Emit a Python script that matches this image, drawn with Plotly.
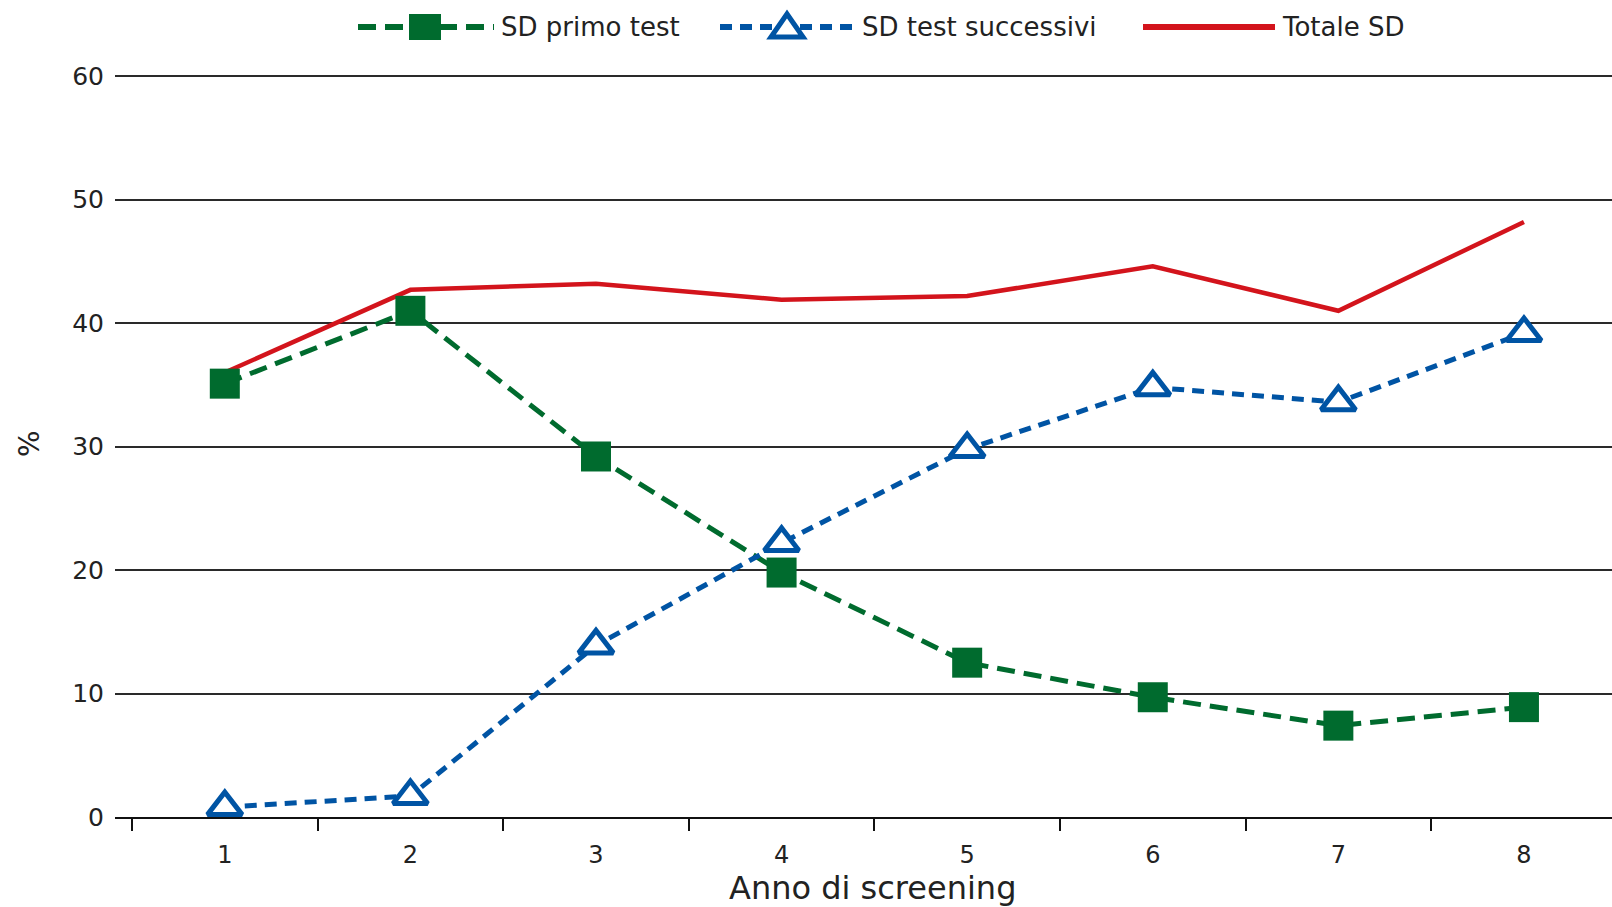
import plotly.graph_objects as go

# Screening year categories and the three series (%)
anni = [1, 2, 3, 4, 5, 6, 7, 8]
anno_labels = ["1", "2", "3", "4", "5", "6", "7", "8"]
sd_primo_test = [35.1, 41.0, 29.2, 19.8, 12.5, 9.7, 7.4, 8.9]
sd_test_successivi = [0.8, 1.7, 13.9, 22.2, 29.8, 34.8, 33.6, 39.2]
totale_sd = [36.0, 42.7, 43.2, 41.9, 42.2, 44.6, 41.0, 48.2]
y_ticks = [0, 10, 20, 30, 40, 50, 60]
serie_nomi = ["SD primo test", "SD test successivi", "Totale SD"]

W, H = 1612, 907
ML, MR, MT, MB = 115, 0, 75, 90
GREEN = "#006b2e"
BLUE = "#0054a4"
RED = "#d3141c"
INK = "#222222"
FONT = "DejaVu Sans"

GREEN_DASH = "18px,9px"
BLUE_DASH = "12px,8px"

fig = go.Figure()

fig.add_trace(go.Scatter(
    x=anni, y=totale_sd, mode="lines", name=serie_nomi[2],
    line=dict(color=RED, width=4.5), cliponaxis=False, showlegend=False,
))
fig.add_trace(go.Scatter(
    x=anni, y=sd_primo_test, mode="lines+markers", name=serie_nomi[0],
    line=dict(color=GREEN, width=5, dash=GREEN_DASH),
    marker=dict(symbol="square", size=30, color=GREEN, line=dict(width=0)),
    cliponaxis=False, showlegend=False,
))
fig.add_trace(go.Scatter(
    x=anni, y=sd_test_successivi, mode="lines+markers", name=serie_nomi[1],
    line=dict(color=BLUE, width=5, dash=BLUE_DASH),
    marker=dict(symbol="triangle-up", size=30, color="white",
                line=dict(color=BLUE, width=5)),
    cliponaxis=False, showlegend=False,
))

# Hand-built legend row above the plot (pixel offsets from the plot's top-left corner)
shapes = []
annotations = []
LEG_Y = MT - 48  # legend centre line, pixels above the plot top (positive = up)
LEG_Y = 48


def legend_line(x0, x1, color, dash=None, width=6):
    line = dict(color=color, width=width)
    if dash:
        line["dash"] = dash
    shapes.append(dict(
        type="line", xref="paper", yref="paper",
        xsizemode="pixel", ysizemode="pixel", xanchor=0, yanchor=1,
        x0=x0 - ML, x1=x1 - ML, y0=LEG_Y, y1=LEG_Y,
        line=line, layer="above",
    ))


def legend_text(x, text):
    annotations.append(dict(
        text=text, xref="paper", yref="paper", x=0, y=1,
        xshift=x - ML, yshift=LEG_Y, xanchor="left", yanchor="middle",
        showarrow=False, font=dict(family=FONT, size=26, color=INK),
    ))


# item 1: green dashed with square
legend_line(358, 494, GREEN, GREEN_DASH, 6)
cx = 425 - ML
shapes.append(dict(
    type="rect", xref="paper", yref="paper",
    xsizemode="pixel", ysizemode="pixel", xanchor=0, yanchor=1,
    x0=cx - 16, x1=cx + 16, y0=LEG_Y - 13, y1=LEG_Y + 13,
    fillcolor=GREEN, line=dict(width=0), layer="above",
))
legend_text(499, serie_nomi[0])

# item 2: blue dashed with open triangle
legend_line(720, 853, BLUE, BLUE_DASH, 6)
tx = 787 - ML
shapes.append(dict(
    type="path", xref="paper", yref="paper",
    xsizemode="pixel", ysizemode="pixel", xanchor=0, yanchor=1,
    path=f"M{tx - 16},{LEG_Y - 10} L{tx + 16},{LEG_Y - 10} L{tx},{LEG_Y + 13} Z",
    fillcolor="white", line=dict(color=BLUE, width=5), layer="above",
))
legend_text(860, serie_nomi[1])

# item 3: solid red
legend_line(1143, 1275, RED, None, 6)
legend_text(1280, serie_nomi[2])

# axis titles
annotations.append(dict(
    text="%", xref="paper", yref="paper", x=0, y=0.5, xshift=29 - ML, yshift=2,
    textangle=-90, showarrow=False, xanchor="center", yanchor="middle",
    font=dict(family=FONT, size=28, color=INK),
))
annotations.append(dict(
    text="Anno di screening", xref="paper", yref="paper", x=0.5, y=0,
    xshift=9, yshift=-50, xanchor="center", yanchor="top", showarrow=False,
    font=dict(family=FONT, size=32, color=INK),
))

fig.update_layout(
    width=W, height=H,
    margin=dict(l=ML, r=MR, t=MT, b=MB, pad=0),
    paper_bgcolor="white", plot_bgcolor="white",
    font=dict(family=FONT, size=25, color=INK),
    shapes=shapes, annotations=annotations,
    showlegend=False,
    xaxis=dict(
        range=[0.4084, 8.4744],
        tickmode="array", tickvals=anni, ticktext=anno_labels,
        ticks="outside", ticklen=12, tickcolor="rgba(0,0,0,0)",
        ticklabelstandoff=3,
        showline=True, linecolor="#111111", linewidth=2,
        showgrid=False, zeroline=False,
        tickfont=dict(family=FONT, size=24, color=INK),
        minor=dict(tickvals=[a - 0.5 for a in anni] + [anni[-1] + 0.5],
                   ticks="outside", ticklen=12, tickwidth=2, tickcolor="#111111",
                   showgrid=False),
    ),
    yaxis=dict(
        range=[0, 60.1], tickmode="array", tickvals=y_ticks,
        ticks="", ticklabelstandoff=10,
        showgrid=True, gridcolor="#2a2a2a", gridwidth=2,
        zeroline=False, showline=False,
        tickfont=dict(family=FONT, size=25, color=INK),
    ),
)

fig.write_html("out.html")
